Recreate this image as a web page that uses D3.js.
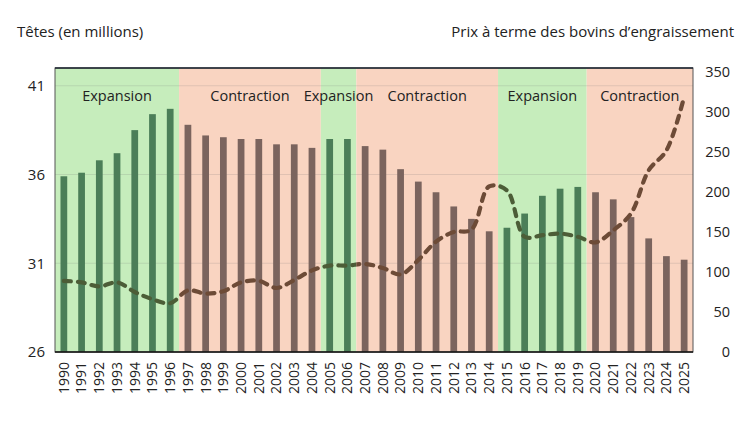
<!DOCTYPE html>
<html>
<head>
<meta charset="utf-8">
<script src="https://cdn.jsdelivr.net/npm/d3@7"></script>
<style>
  body { margin: 0; background: #fff; }
  svg text { font-family: "Open Sans", sans-serif; fill: #222; }
</style>
</head>
<body>
<svg id="chart" width="750" height="422"></svg>
<script>
const years = d3.range(1990, 2026).map(String)

// cattle inventory, millions of head
const heads = [35.9, 36.1, 36.8, 37.2, 38.5, 39.4, 39.7,
  38.8, 38.2, 38.1, 38.0, 38.0, 37.7, 37.7, 37.5,
  38.0, 38.0,
  37.6, 37.4, 36.3, 35.6, 35.0, 34.2, 33.5, 32.8,
  33.0, 33.8, 34.8, 35.2, 35.3,
  35.0, 34.6, 33.6, 32.4, 31.4, 31.2]

// feeder cattle futures price
const price = [89, 87, 82, 87, 75, 66, 61,
  77, 73, 76, 87, 89, 80, 90, 102,
  108, 108,
  110, 105, 97, 115, 138, 150, 153, 207,
  202, 144, 146, 148, 144,
  137, 152, 173, 227, 252, 319]

const phaseNames = ['Expansion', 'Contraction', 'Expansion', 'Contraction', 'Expansion', 'Contraction']
const phaseStart = ['1990', '1997', '2005', '2007', '2015', '2020']
const phaseEnd = ['1996', '2004', '2006', '2014', '2019', '2025']

const leftTicks = [26, 31, 36, 41]
const rightTicks = [0, 50, 100, 150, 200, 250, 300, 350]

const margin = {top: 68, right: 57, bottom: 70, left: 55}
const width = 750, height = 422
const x0 = margin.left, x1 = width - margin.right
const y0 = height - margin.bottom, y1 = margin.top

const svg = d3.select('#chart')

const x = d3.scaleBand().domain(years).range([x0, x1])
    .paddingInner(0.62).paddingOuter(0.31)
const yLeft = d3.scaleLinear().domain([26, 42]).range([y0, y1])
const yRight = d3.scaleLinear().domain([0, 355]).range([y0, y1])

const step = x.step()
const gap = (step - x.bandwidth()) / 2

const phases = phaseNames.map((name, i) => ({
    name,
    expand: name === 'Expansion',
    x: x(phaseStart[i]) - gap,
    w: x(phaseEnd[i]) + x.bandwidth() + gap - (x(phaseStart[i]) - gap)
}))

const phaseOf = year => phases.find((p, i) => year >= phaseStart[i] && year <= phaseEnd[i])

// background bands
svg.append('g').selectAll('rect')
    .data(phases)
    .join('rect')
    .attr('x', d => d.x)
    .attr('y', y1)
    .attr('width', d => d.w)
    .attr('height', y0 - y1)
    .attr('fill', d => d.expand ? '#c6edbc' : '#f9d4c1')

// gridlines
svg.append('g').selectAll('line')
    .data(leftTicks.filter(t => t > 26))
    .join('line')
    .attr('x1', x0).attr('x2', x1)
    .attr('y1', d => yLeft(d)).attr('y2', d => yLeft(d))
    .attr('stroke', 'rgba(110,110,110,0.18)')
    .attr('stroke-width', 1.2)

// bars
svg.append('g').selectAll('rect')
    .data(years)
    .join('rect')
    .attr('x', d => x(d))
    .attr('width', x.bandwidth())
    .attr('y', (d, i) => yLeft(heads[i]))
    .attr('height', (d, i) => y0 - yLeft(heads[i]))
    .attr('fill', d => phaseOf(d).expand ? '#4b7e58' : '#7b645e')

// price line, coloured by phase via clip paths
const line = d3.line()
    .x((d, i) => x(years[i]) + x.bandwidth() / 2)
    .y(d => yRight(d))
    .curve(d3.curveCatmullRom.alpha(0.5))

const defs = svg.append('defs')
;['exp', 'con'].forEach(k => {
    defs.append('clipPath').attr('id', 'clip-' + k)
        .selectAll('rect')
        .data(phases.filter(p => p.expand === (k === 'exp')))
        .join('rect')
        .attr('x', d => d.x).attr('y', 0)
        .attr('width', d => d.w).attr('height', height)
})

svg.append('path')
    .datum(price)
    .attr('d', line)
    .attr('fill', 'none')
    .attr('stroke', '#4c5d37')
    .attr('stroke-width', 4.2)
    .attr('stroke-dasharray', '7,7')
    .attr('stroke-linecap', 'round')
    .attr('clip-path', 'url(#clip-exp)')

svg.append('path')
    .datum(price)
    .attr('d', line)
    .attr('fill', 'none')
    .attr('stroke', '#6d4b37')
    .attr('stroke-width', 4.2)
    .attr('stroke-dasharray', '7,7')
    .attr('stroke-linecap', 'round')
    .attr('clip-path', 'url(#clip-con)')

// frame
svg.append('rect')
    .attr('x', x0).attr('y', y1)
    .attr('width', x1 - x0).attr('height', y0 - y1)
    .attr('fill', 'none')
    .attr('stroke', '#555')
    .attr('stroke-width', 1)
svg.append('line')
    .attr('x1', x0).attr('x2', x1)
    .attr('y1', y0).attr('y2', y0)
    .attr('stroke', '#111').attr('stroke-width', 1.5)
svg.append('line')
    .attr('x1', x0).attr('x2', x1)
    .attr('y1', y1).attr('y2', y1)
    .attr('stroke', '#1c2430').attr('stroke-width', 1.5)

// phase labels
svg.append('g').selectAll('text')
    .data(phases)
    .join('text')
    .attr('x', d => d.x + d.w / 2)
    .attr('y', 101)
    .attr('text-anchor', 'middle')
    .style('font-size', '14.5px')
    .text(d => d.name)

// left axis
const axL = svg.append('g')
    .attr('transform', `translate(${x0},0)`)
    .call(d3.axisLeft(yLeft).tickValues(leftTicks).tickSize(0).tickPadding(10))
axL.select('.domain').remove()
axL.selectAll('text').style('font-size', '15px').style('font-family', '"Open Sans", sans-serif').attr('fill', '#222')

// right axis
const axR = svg.append('g')
    .attr('transform', `translate(${x1 + 37},0)`)
    .call(d3.axisLeft(yRight).tickValues(rightTicks).tickSize(0).tickPadding(0))
axR.select('.domain').remove()
axR.selectAll('text').style('font-size', '14.5px').style('font-family', '"Open Sans", sans-serif').attr('fill', '#222')

// x axis
const axX = svg.append('g')
    .attr('transform', `translate(0,${y0})`)
    .call(d3.axisBottom(x).tickSize(0))
axX.select('.domain').remove()
axX.selectAll('text')
    .style('font-size', '14px')
    .style('font-family', '"Open Sans", sans-serif')
    .attr('fill', '#222')
    .attr('transform', 'rotate(-90)')
    .attr('text-anchor', 'end')
    .attr('x', -10)
    .attr('y', 0)
    .attr('dy', '0.35em')

// axis titles
svg.append('text')
    .attr('x', 17).attr('y', 37)
    .style('font-size', '15px')
    .text('Têtes (en millions)')
svg.append('text')
    .attr('x', 734).attr('y', 37)
    .attr('text-anchor', 'end')
    .style('font-size', '15px')
    .text('Prix à terme des bovins d’engraissement')
</script>
</body>
</html>
